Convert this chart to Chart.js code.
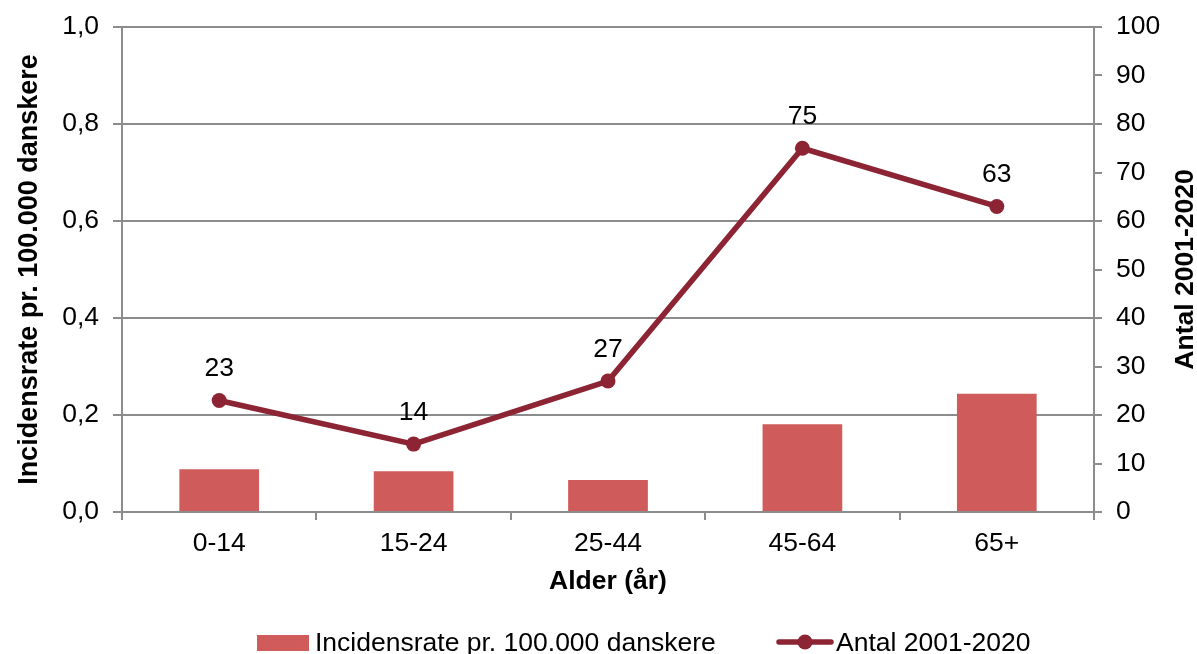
<!DOCTYPE html>
<html>
<head>
<meta charset="utf-8">
<script src="https://cdn.jsdelivr.net/npm/chart.js@4/dist/chart.umd.min.js"></script>
<style>
html,body{margin:0;padding:0;background:#fff;}
#wrap{width:1197px;height:654px;position:relative;}
</style>
</head>
<body>
<div id="wrap"><canvas id="c" width="1197" height="654"></canvas></div>
<script>
const categories = ['0-14', '15-24', '25-44', '45-64', '65+'];
const incidens = [0.088, 0.084, 0.066, 0.181, 0.244];
const antal = [23, 14, 27, 75, 63];
const barLabel = 'Incidensrate pr. 100.000 danskere';
const lineLabel = 'Antal 2001-2020';
const xTitle = 'Alder (år)';
const yLeftTitle = 'Incidensrate pr. 100.000 danskere';
const yRightTitle = 'Antal 2001-2020';

const FONT = "'Liberation Sans', Arial, sans-serif";
const FS = 26.5;
const BAR_COLOR = '#CF5B5A';
const LINE_COLOR = '#8C2434';
const GRID = '#8c8c8c';

const extras = {
  id: 'extras',
  afterDatasetsDraw(chart) {
    const ctx = chart.ctx;
    ctx.save();
    const meta = chart.getDatasetMeta(1);
    ctx.font = FS + 'px ' + FONT;
    ctx.fillStyle = '#000';
    ctx.textAlign = 'center';
    ctx.textBaseline = 'alphabetic';
    meta.data.forEach((pt, i) => {
      ctx.fillText(String(antal[i]), pt.x, pt.y - 24);
    });
    const ca = chart.chartArea;
    ctx.font = 'bold ' + FS + 'px ' + FONT;
    ctx.translate(1186, (ca.top + ca.bottom) / 2);
    ctx.rotate(-Math.PI / 2);
    ctx.textBaseline = 'middle';
    ctx.fillText(yRightTitle, 0, 0);
    ctx.restore();

    ctx.save();
    ctx.font = FS + 'px ' + FONT;
    ctx.fillStyle = BAR_COLOR;
    ctx.fillRect(257, 635, 52, 16);
    ctx.fillStyle = '#000';
    ctx.textAlign = 'left';
    ctx.textBaseline = 'alphabetic';
    ctx.fillText(barLabel, 315, 651);
    ctx.strokeStyle = LINE_COLOR;
    ctx.lineWidth = 5.5;
    ctx.lineCap = 'round';
    ctx.beginPath();
    ctx.moveTo(779, 642);
    ctx.lineTo(831, 642);
    ctx.stroke();
    ctx.fillStyle = LINE_COLOR;
    ctx.beginPath();
    ctx.arc(805, 642, 7.5, 0, Math.PI * 2);
    ctx.fill();
    ctx.fillStyle = '#000';
    ctx.fillText(lineLabel, 836, 651);
    ctx.restore();
  }
};

new Chart(document.getElementById('c'), {
  data: {
    labels: categories,
    datasets: [
      {
        type: 'bar',
        label: barLabel,
        data: incidens,
        backgroundColor: BAR_COLOR,
        yAxisID: 'y',
        barPercentage: 0.41,
        categoryPercentage: 1.0,
        order: 2
      },
      {
        type: 'line',
        label: lineLabel,
        data: antal,
        borderColor: LINE_COLOR,
        backgroundColor: LINE_COLOR,
        borderWidth: 5.5,
        pointRadius: 7.5,
        pointHoverRadius: 7.5,
        pointBackgroundColor: LINE_COLOR,
        pointBorderWidth: 0,
        tension: 0,
        yAxisID: 'y1',
        order: 1
      }
    ]
  },
  options: {
    responsive: false,
    animation: false,
    events: [],
    layout: { padding: { top: 27, bottom: 52, left: 0, right: 0 } },
    plugins: { legend: { display: false }, tooltip: { enabled: false } },
    scales: {
      x: {
        offset: true,
        grid: { offset: true, drawOnChartArea: false, color: GRID, lineWidth: 2, tickLength: 8 },
        border: { display: true, color: GRID, width: 2 },
        ticks: { color: '#000', font: { family: FONT, size: FS }, padding: 8, maxRotation: 0 },
        title: { display: true, text: xTitle, color: '#000', font: { family: FONT, size: FS, weight: 'bold' }, padding: { top: 0, bottom: 4 } },
        afterFit(s) { s.height = 90; s.paddingLeft = 0; s.paddingRight = 0; }
      },
      y: {
        position: 'left',
        min: 0, max: 1,
        ticks: {
          stepSize: 0.2, color: '#000', font: { family: FONT, size: FS }, padding: 14,
          callback: v => v.toFixed(1).replace('.', ',')
        },
        grid: { color: GRID, lineWidth: 2, tickLength: 9 },
        border: { display: true, color: GRID, width: 2 },
        title: { display: true, text: yLeftTitle, color: '#000', font: { family: FONT, size: 27, weight: 'bold' }, padding: { top: 13, bottom: 0 } },
        afterFit(s) { s.width = 122; s.paddingTop = 0; s.paddingBottom = 0; }
      },
      y1: {
        position: 'right',
        min: 0, max: 100,
        ticks: { stepSize: 10, color: '#000', font: { family: FONT, size: FS }, padding: 14 },
        grid: { drawOnChartArea: false, color: GRID, lineWidth: 2, tickLength: 8 },
        border: { display: true, color: GRID, width: 2 },
        afterFit(s) { s.width = 103; s.paddingTop = 0; s.paddingBottom = 0; }
      }
    }
  },
  plugins: [extras]
});
</script>
</body>
</html>
